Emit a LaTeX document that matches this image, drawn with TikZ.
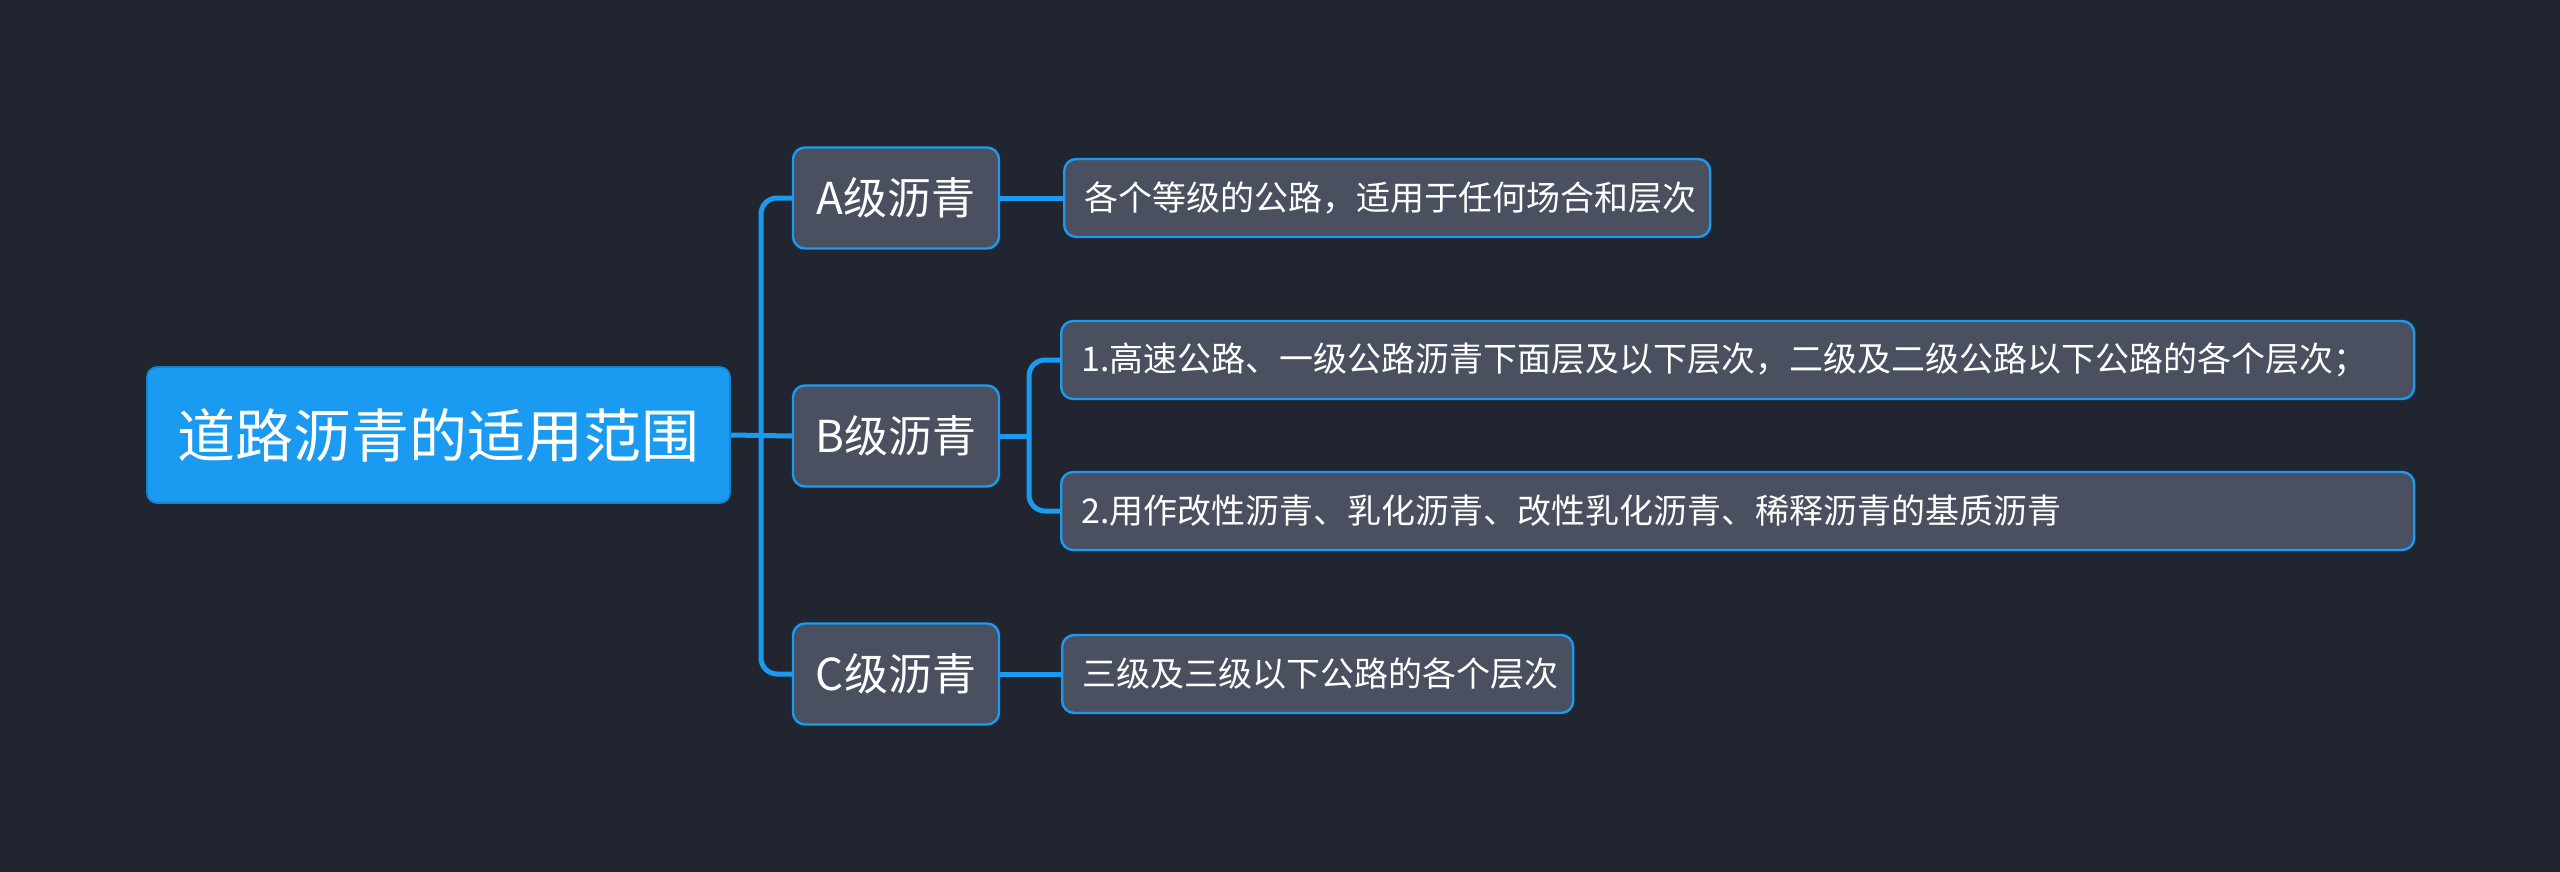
\documentclass[tikz,border=0pt]{standalone}
\usepackage{fontspec}
\usepackage{tikz}
\newfontfamily\cjk{Noto Sans CJK SC}
\definecolor{bgdark}{RGB}{33,37,48}
\definecolor{boxgray}{RGB}{74,80,96}
\definecolor{linkblue}{RGB}{26,154,240}
\tikzset{
  topic/.style={rectangle,rounded corners=5pt,fill=linkblue,draw=linkblue!85!black,line width=0.8pt,
    text=white,font=\cjk\fontsize{29}{34}\selectfont,minimum width=291.5pt,minimum height=68pt},
  grade/.style={rectangle,rounded corners=6pt,fill=boxgray,draw=linkblue,line width=1.2pt,
    text=white,font=\cjk\fontsize{22}{26}\selectfont,minimum width=103pt,minimum height=50.5pt},
  leaf/.style={rectangle,rounded corners=6pt,fill=boxgray,draw=linkblue,line width=1.2pt,
    text=white,font=\cjk\fontsize{17}{20}\selectfont,align=left,inner xsep=10pt,minimum height=39pt,anchor=west},
  link/.style={draw=linkblue,line width=2.5pt,rounded corners=8pt}
}
\begin{document}
\begin{tikzpicture}[x=0.5pt,y=-0.5pt]
\fill[bgdark] (0,0) rectangle (2560,872);
\useasboundingbox (0,0) rectangle (2560,872);

\node[topic] (root) at (438.5,435) {道路沥青的适用范围};

\foreach \n/\y/\t in {A/198/A级沥青, B/436/B级沥青, C/674/C级沥青}
  \node[grade] (\n) at (896,\y) {\t};

\foreach \n/\x/\y/\w/\t in {Ause/1063/198/303/各个等级的公路，适用于任何场合和层次,
                            B1/1060/360/656.5/1.高速公路、一级公路沥青下面层及以下层次，二级及二级公路以下公路的各个层次；,
                            B2/1060/511/656.5/2.用作改性沥青、乳化沥青、改性乳化沥青、稀释沥青的基质沥青,
                            Cuse/1061/674/235.5/三级及三级以下公路的各个层次}
  \node[leaf,text width=\w pt] (\n) at (\x,\y) {\t};

\coordinate (fork) at (761,436);
\coordinate (bfork) at (1029,436);

\draw[link] (root.east) -- (B.west);
\draw[link] (fork) |- (A.west);
\draw[link] (fork) |- (C.west);
\draw[link] (A.east) -- (Ause.west);
\draw[link] (C.east) -- (Cuse.west);
\draw[link] (B.east) -- (bfork);
\draw[link] (bfork) |- (B1.west);
\draw[link] (bfork) |- (B2.west);
\end{tikzpicture}
\end{document}
